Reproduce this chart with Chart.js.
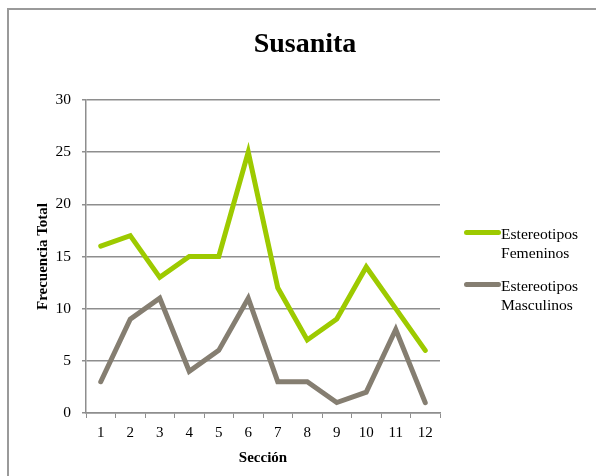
<!DOCTYPE html>
<html>
<head>
<meta charset="utf-8">
<script src="https://cdn.jsdelivr.net/npm/chart.js@4.4.1/dist/chart.umd.min.js"></script>
<style>
  body { margin: 0; background: #fff; }
  #wrap { position: relative; width: 596px; height: 476px; overflow: hidden; font-family: "Liberation Serif", serif; }
  #frame { position: absolute; left: 7px; top: 8px; width: 700px; height: 600px; border-left: 2px solid #9a9a9a; border-top: 2px solid #9a9a9a; }
  #chart { position: absolute; left: 0; top: 0; }
  #title { position: absolute; left: 205px; width: 200px; top: 26px; text-align: center; font-weight: bold; font-size: 28px; line-height: 34px; color: #000; }
  .leg { position: absolute; left: 464px; font-size: 15.6px; line-height: 19px; color: #000; }
  .leg .swatch { position: absolute; left: 0; top: 6px; width: 37px; height: 5px; border-radius: 3px; }
  .leg .txt { margin-left: 37px; }
</style>
</head>
<body>
<div id="wrap">
  <div id="frame"></div>
  <canvas id="chart" width="596" height="476"></canvas>
  <div id="title">Susanita</div>
  <div class="leg" style="top:224px"><div class="swatch" style="background:#9dca00"></div><div class="txt">Estereotipos<br>Femeninos</div></div>
  <div class="leg" style="top:276px"><div class="swatch" style="background:#857e71"></div><div class="txt">Estereotipos<br>Masculinos</div></div>
</div>
<script>
// datos
const secciones = ['1', '2', '3', '4', '5', '6', '7', '8', '9', '10', '11', '12'];
const femeninos = [16, 17, 13, 15, 15, 25, 12, 7, 9, 14, 10, 6];
const masculinos = [3, 9, 11, 4, 6, 11, 3, 3, 1, 2, 8, 1];

const serif = 'Liberation Serif';
const gris = '#8e8e8e';

new Chart(document.getElementById('chart'), {
    type: 'line',
    data: {
        labels: secciones,
        datasets: [
            { label: 'Estereotipos Femeninos', data: femeninos, borderColor: '#9dca00', borderWidth: 5, pointRadius: 0, tension: 0, borderCapStyle: 'round' },
            { label: 'Estereotipos Masculinos', data: masculinos, borderColor: '#857e71', borderWidth: 5, pointRadius: 0, tension: 0, borderCapStyle: 'round' }
        ]
    },
    options: {
        responsive: false,
        animation: false,
        layout: { padding: { left: 0, right: 156, top: 100, bottom: 0 } },
        plugins: { legend: { display: false }, tooltip: { enabled: false } },
        scales: {
            x: {
                offset: true,
                grid: { offset: true, drawOnChartArea: false, drawTicks: true, tickLength: 5, color: gris },
                border: { color: gris, width: 1.5 },
                ticks: { color: '#000', padding: 6, maxRotation: 0, font: { family: serif, size: 15 } },
                title: { display: true, text: 'Sección', color: '#000', padding: { top: 0, bottom: 9 }, font: { family: serif, size: 15, weight: 'bold' } },
                afterFit: s => { s.height = 63; }
            },
            y: {
                min: 0, max: 30,
                ticks: { stepSize: 5, color: '#000', padding: 11, font: { family: serif, size: 15.5 } },
                grid: { color: gris, lineWidth: 1.5, tickLength: 4 },
                border: { color: gris, width: 1.5 },
                title: { display: true, text: 'Frecuencia Total', color: '#000', padding: { top: 34, bottom: 0 }, font: { family: serif, size: 15, weight: 'bold' } },
                afterFit: s => { s.width = 86; }
            }
        }
    }
});
</script>
</body>
</html>
